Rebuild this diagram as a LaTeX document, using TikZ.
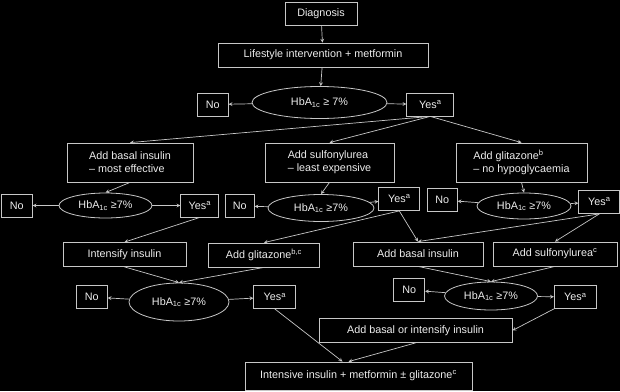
\documentclass[tikz,border=0pt]{standalone}
\usepackage{fontspec}
\setmainfont{Liberation Sans}
\usepackage{tikz}
\usetikzlibrary{shapes.geometric, arrows, positioning}
\definecolor{linecol}{gray}{0.78}
\definecolor{txtcol}{gray}{0.93}

\begin{document}
\begin{tikzpicture}[
    x=1pt, y=-1pt,
    node distance=20pt,
    box/.style={draw=linecol, rectangle, minimum height=24pt, inner sep=2pt,
      align=center, text=txtcol, line width=0.8pt, font=\fontsize{10.8}{12.8}\selectfont},
    twobox/.style={box, minimum height=39pt, align=left},
    smallbox/.style={box, minimum width=31pt, minimum height=23pt},
    decisionnode/.style={draw=linecol, shape=ellipse, inner sep=1pt, text=txtcol,
      line width=0.8pt, font=\fontsize{10.8}{12.8}\selectfont},
    arrow/.style={draw=linecol, line width=0.7pt, ->, >=stealth}
]
\fill[black] (0,0) rectangle (620,391);
\useasboundingbox (0,0) rectangle (620,391);

\node (diag) [box, minimum width=72pt, minimum height=23pt] at (321,13.5) {Diagnosis};
\node (life) [box, minimum width=210pt] at (323,55) {Lifestyle intervention + metformin};
\node (hba) [decisionnode, minimum width=135pt, minimum height=32pt] at (319.5,102.5) {HbA\textsubscript{1c} ≥ 7\%};
\node (no0) [smallbox, left=23pt of hba, yshift=-2pt] {No};
\node (yes0) [smallbox, minimum width=47pt, right=19pt of hba, yshift=-2pt] {Yes\textsuperscript{a}};

% first choice
\node (basal) [twobox, minimum width=126pt] at (130,162.5) {Add basal insulin\\– most effective};
\node (sulf) [twobox, minimum width=129pt] at (329.5,162.5) {Add sulfonylurea\\– least expensive};
\node (glit) [twobox, minimum width=131pt] at (521.5,162.5) {Add glitazone\textsuperscript{b}\\– no hypoglycaemia};

\node (hbaL) [decisionnode, minimum width=93pt, minimum height=25pt] at (105.5,205.5) {HbA\textsubscript{1c} ≥7\%};
\node (noL) [smallbox, left=26pt of hbaL] {No};
\node (yesL) [smallbox, minimum width=38pt, right=28pt of hbaL] {Yes\textsuperscript{a}};
\node (hbaM) [decisionnode, minimum width=106pt, minimum height=27pt] at (321,208) {HbA\textsubscript{1c} ≥7\%};
\node (noM) [smallbox, minimum width=29pt, left=13pt of hbaM, yshift=2pt] {No};
\node (yesM) [smallbox, minimum width=41pt, right=4pt of hbaM, yshift=9pt] {Yes\textsuperscript{a}};
\node (hbaR) [decisionnode, minimum width=94pt, minimum height=26pt] at (524,206) {HbA\textsubscript{1c} ≥7\%};
\node (noR) [smallbox, minimum width=30pt, left=19pt of hbaR, yshift=6pt] {No};
\node (yesR) [smallbox, minimum width=41pt, right=7pt of hbaR, yshift=4pt] {Yes\textsuperscript{a}};

% second step
\node (intens) [box, minimum width=123pt] at (124.5,254.5) {Intensify insulin};
\node (glitb) [box, minimum width=111pt] at (264,255) {Add glitazone\textsuperscript{b,c}};
\node (basalb) [box, minimum width=130pt] at (418,254) {Add basal insulin};
\node (sulfb) [box, minimum width=124pt] at (555,254) {Add sulfonylurea\textsuperscript{c}};

\node (hbaL2) [decisionnode, minimum width=100pt, minimum height=38pt] at (179,302) {HbA\textsubscript{1c} ≥7\%};
\node (noL2) [smallbox, left=21pt of hbaL2, yshift=5pt] {No};
\node (yesL2) [smallbox, minimum width=42pt, right=24pt of hbaL2, yshift=5pt] {Yes\textsuperscript{a}};
\node (hbaR2) [decisionnode, minimum width=93pt, minimum height=28pt] at (491,296) {HbA\textsubscript{1c} ≥7\%};
\node (noR2) [smallbox, left=19pt of hbaR2, yshift=6pt] {No};
\node (yesR2) [smallbox, minimum width=42pt, right=16pt of hbaR2, yshift=-1pt] {Yes\textsuperscript{a}};

\node (addbi) [box, minimum width=193pt] at (415.5,330.5) {Add basal or intensify insulin};
\node (final) [box, minimum width=227pt, minimum height=28pt] at (358.5,376) {Intensive insulin + metformin ± glitazone\textsuperscript{c}};

\draw[arrow] (diag) -- (life);
\draw[arrow] (life) -- (hba);
\draw[arrow] (hba) -- (no0);
\draw[arrow] (hba) -- (yes0);
\draw[arrow] (yes0.south) -- (basal.north);
\draw[arrow] (yes0.south) -- (sulf.north);
\draw[arrow] (yes0.south) -- (glit.north);

\draw[arrow] (basal.south) -- (hbaL.north);
\draw[arrow] (sulf.south) -- (hbaM.north);
\draw[arrow] (glit.south) -- (hbaR.north);
\draw[arrow] (hbaL) -- (noL);
\draw[arrow] (hbaL) -- (yesL);
\draw[arrow] (hbaM) -- (noM);
\draw[arrow] (hbaM) -- (yesM);
\draw[arrow] (hbaR) -- (noR);
\draw[arrow] (hbaR) -- (yesR);

\draw[arrow] (yesL.south) -- (intens.north);
\draw[arrow] (yesM.south) -- (glitb.north);
\draw[arrow] (yesM.south) -- (basalb.north);
\draw[arrow] (yesR.south) -- (basalb.north);
\draw[arrow] (yesR.south) -- (sulfb.north);

\draw[arrow] (intens.south) -- (hbaL2.north);
\draw[arrow] (glitb.south) -- (hbaL2.north);
\draw[arrow] (basalb.south) -- (hbaR2.north);
\draw[arrow] (sulfb.south) -- (hbaR2.north);
\draw[arrow] (hbaL2) -- (noL2);
\draw[arrow] (hbaL2) -- (yesL2);
\draw[arrow] (hbaR2) -- (noR2);
\draw[arrow] (hbaR2) -- (yesR2);

\draw[arrow] (yesR2.south west) -- (addbi.east);
\draw[arrow] (yesL2.south) -- ([xshift=-16pt]final.north);
\draw[arrow] (addbi.south) -- ([xshift=-10pt]final.north);
\end{tikzpicture}
\end{document}
